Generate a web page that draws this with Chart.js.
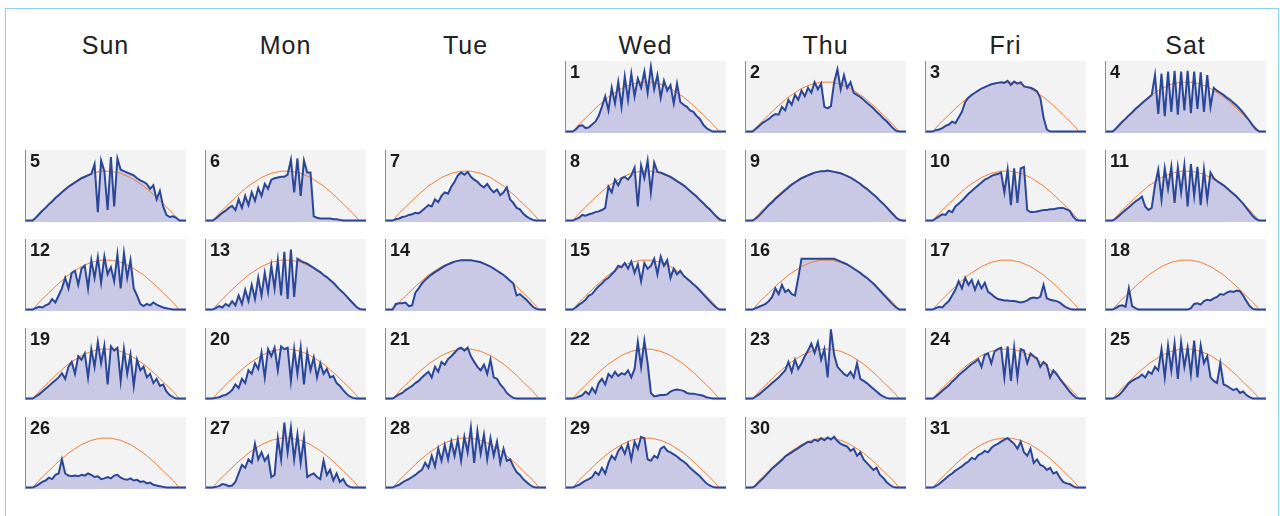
<!DOCTYPE html>
<html>
<head>
<meta charset="utf-8">
<script src="https://cdn.jsdelivr.net/npm/chart.js@4.4.1/dist/chart.umd.min.js"></script>
<style>
  body { margin: 0; background: #fff; font-family: "Liberation Sans", Arial, sans-serif; }
  #page { position: relative; width: 1280px; height: 516px; overflow: hidden; }
  #frame { position: absolute; left: 5px; top: 8px; width: 1272px; height: 520px; border: 1px solid #8fd0f0; }
  .head { position: absolute; top: 31px; width: 161px; text-align: center; font-size: 25px; letter-spacing: 1px; color: #222; }
  .panel { position: absolute; width: 160px; height: 72px; background: #f3f3f3; border-left: 1px solid #8c8c8c; }
  .panel canvas { position: absolute; left: 0; top: 0; }
  .day { position: absolute; left: 4px; top: 1px; font-size: 18px; line-height: 20px; font-weight: bold; color: #1a1a1a; }
</style>
</head>
<body>
<div id="page"><div id="frame"></div></div>
<script>
// calendar
const weekdays = ["Sun", "Mon", "Tue", "Wed", "Thu", "Fri", "Sat"];
const firstWeekday = 3; // the 1st is a Wednesday

// clear-sky reference curve (same for every day)
const clearSky = [0,0,0,5,10,15,19,24,28,33, 37,41,45,49,52,55,58,61,63,65, 67,68,69,70,70,70,70,69,68,67, 65,63,61,58,55,52,49,45,41,37, 33,28,24,19,15,10,5,0,0,0];

// measured production per day
const day01 = [0,0,0,3,8,9,5,6,10,14, 22,35,50,30,62,40,70,35,78,45, 82,50,75,62,85,55,92,60,80,48, 72,58,66,40,68,42,38,35,30,28, 22,18,10,5,2,0,0,0,0,0];
const day02 = [0,0,0,4,8,12,15,18,22,25, 24,35,30,45,38,52,45,58,50,62, 55,70,60,68,35,33,36,70,88,60, 80,62,70,55,52,49,45,41,37,33, 28,24,19,15,10,5,1,0,0,0];
const day03 = [0,0,0,2,3,5,8,10,14,12, 20,28,42,48,52,55,58,61,63,65, 67,68,69,70,69,72,66,71,68,70, 64,63,62,60,57,48,20,3,0,0, 0,0,0,0,0,0,0,0,0,0];
const day04 = [0,0,0,4,9,14,18,23,27,32, 36,40,44,48,52,80,25,82,22,85, 28,86,24,85,30,86,26,85,32,84, 28,80,35,62,58,55,52,48,45,41, 37,32,27,21,15,8,3,0,0,0];
const day05 = [0,0,0,4,9,14,18,23,27,32, 36,40,44,48,51,54,57,60,62,64, 66,80,12,85,70,15,90,20,88,72, 70,68,66,64,60,57,55,52,45,50, 30,42,20,8,5,6,4,0,0,0];
const day06 = [0,0,0,3,7,11,14,18,21,15, 30,18,35,22,40,28,46,35,52,45, 58,60,61,62,62,65,86,40,88,35, 85,68,68,6,4,3,3,3,3,2, 2,1,0,0,0,0,0,0,0,0];
const day07 = [0,0,0,2,3,5,6,8,9,11, 10,14,18,22,20,30,26,35,40,38, 48,55,64,68,65,69,62,58,55,50, 47,52,45,40,44,36,40,47,30,25, 18,16,10,6,3,1,0,0,0,0];
const day08 = [0,0,0,2,4,8,7,9,10,12, 13,15,18,48,40,58,50,60,62,58, 64,75,20,78,60,85,40,82,69,68, 66,64,62,59,56,53,50,46,42,38, 34,29,25,20,16,11,6,2,0,0];
const day09 = [0,0,0,3,7,12,17,22,26,31, 35,39,43,47,51,54,57,60,62,64, 66,68,69,70,70,71,70,69,68,67, 65,63,61,58,55,52,48,45,41,37, 33,28,24,19,14,9,4,1,0,0];
const day10 = [0,0,0,3,6,9,8,14,12,20, 24,28,33,38,42,46,50,54,58,60, 63,65,66,68,40,72,22,74,25,74, 76,15,12,12,13,14,15,15,16,16, 17,18,18,16,14,6,1,0,0,0];
const day11 = [0,0,0,3,7,11,15,19,23,27, 30,34,20,15,18,50,72,30,74,45, 76,25,75,40,78,20,80,35,76,22, 72,30,68,60,56,53,50,46,42,38, 34,29,24,18,12,6,2,0,0,0];
const day12 = [0,0,0,2,4,3,6,8,15,10, 20,30,45,30,52,55,35,58,62,30, 70,45,74,38,75,50,60,40,78,30, 80,45,70,30,20,8,5,8,6,10, 7,5,3,2,1,0,0,0,0,0];
const day13 = [0,0,0,2,5,3,8,5,12,6, 20,8,28,12,35,15,45,20,52,25, 62,30,70,20,82,15,85,18,72,69, 67,65,62,59,56,53,49,46,42,38, 33,28,24,19,14,9,4,1,0,0];
const day14 = [0,0,0,8,9,9,10,5,6,24, 30,37,42,46,50,53,56,59,62,64, 66,68,69,70,70,70,70,69,68,67, 65,63,61,58,55,52,49,45,41,37, 20,22,18,14,9,4,1,0,0,0];
const day15 = [0,0,0,3,7,10,14,20,22,28, 33,37,42,45,50,55,62,60,66,58, 68,52,64,40,66,58,62,72,50,75, 62,70,45,58,50,55,48,44,40,36, 32,27,22,17,12,7,3,0,0,0];
const day16 = [0,0,0,2,4,6,8,12,18,30, 22,35,25,28,22,20,45,72,72,72, 72,72,72,72,72,72,72,72,70,68, 66,64,61,58,55,52,48,45,41,37, 32,27,22,17,12,7,3,0,0,0];
const day17 = [0,0,0,2,4,3,8,12,20,28, 40,30,45,35,42,28,40,30,38,25, 22,18,15,14,13,13,12,12,11,10, 11,13,16,17,16,18,35,16,14,13, 12,10,6,3,1,0,0,0,0,0];
const day18 = [0,0,0,2,5,6,4,30,5,2, 0,0,0,0,0,0,0,0,0,0, 0,0,0,0,0,0,2,8,9,7, 12,14,13,16,18,22,21,24,26,25, 27,26,20,12,5,1,0,0,0,0];
const day19 = [0,0,0,3,6,10,14,18,22,26, 30,36,28,45,52,35,60,55,64,30, 70,45,80,50,75,20,74,68,72,25, 70,35,62,18,55,40,45,30,35,22, 28,18,20,10,5,2,0,0,0,0];
const day20 = [0,0,0,1,2,4,5,8,12,20, 15,28,22,40,35,50,42,65,30,70, 60,72,40,74,70,72,25,70,35,72, 20,65,40,58,30,50,35,42,30,32, 22,18,12,7,3,1,0,0,0,0];
const day21 = [0,0,0,3,6,8,12,15,18,22, 25,30,34,38,30,45,38,52,48,56, 60,65,70,72,68,72,60,52,45,40, 48,35,55,30,28,20,15,8,4,1, 0,0,0,0,0,0,0,0,0,0];
const day22 = [0,0,0,1,3,5,10,6,15,8, 22,28,20,35,30,38,32,36,34,40, 30,42,80,45,82,50,8,3,4,5, 5,6,10,12,13,12,11,8,7,7, 6,5,4,2,1,0,0,0,0,0];
const day23 = [0,0,0,3,6,10,14,18,22,26, 30,35,40,52,38,55,42,50,60,68, 78,65,80,55,70,30,98,62,45,40, 35,32,38,30,50,28,25,22,18,14, 10,6,3,1,0,0,0,0,0,0];
const day24 = [0,0,0,3,7,11,15,19,24,28, 33,37,41,45,49,52,56,45,62,64, 50,67,70,72,30,74,25,72,30,70, 68,50,64,60,57,45,52,48,30,40, 35,28,22,16,10,5,1,0,0,0];
const day25 = [0,0,0,2,5,10,16,22,25,28, 30,34,30,38,35,45,40,70,30,75, 40,78,28,80,45,72,35,82,30,75, 50,60,30,25,22,50,20,18,15,12, 14,8,10,5,2,0,0,0,0,0];
const day26 = [0,0,0,2,5,8,10,14,12,18, 20,40,20,17,16,17,16,18,17,20, 18,15,16,12,13,15,13,17,18,14, 12,11,13,10,11,8,9,6,7,4, 3,2,1,0,0,0,0,0,0,0];
const day27 = [0,0,0,1,2,5,4,2,3,8, 20,32,28,40,35,62,40,50,38,45, 15,18,70,40,92,50,85,40,75,35, 70,15,18,20,15,12,38,18,25,10, 20,8,12,4,1,0,0,0,0,0];
const day28 = [0,0,0,2,4,7,10,12,15,18, 22,25,35,28,45,30,55,38,60,40, 65,45,68,38,72,50,85,35,80,48, 75,40,70,45,65,35,55,38,40,30, 22,18,12,8,4,1,0,0,0,0];
const day29 = [0,0,0,2,4,7,10,12,15,22, 18,28,20,35,45,40,52,58,48,62, 40,65,55,72,70,40,38,45,42,55, 58,52,50,47,44,40,37,33,28,24, 20,16,11,6,3,1,0,0,0,0];
const day30 = [0,0,0,3,8,12,17,22,27,31, 35,39,44,47,50,53,56,59,62,65, 64,68,66,70,67,71,68,72,66,62, 60,58,52,55,45,50,40,35,30,25, 28,18,14,8,4,1,0,0,0,0];
const day31 = [0,0,0,2,5,9,13,17,20,24, 27,30,34,37,42,40,46,48,52,50, 56,60,62,65,68,70,66,62,55,65, 50,45,55,35,40,32,30,25,28,20, 22,14,8,6,5,2,0,0,0,0];

const days = [day01, day02, day03, day04, day05, day06, day07, day08, day09, day10,
  day11, day12, day13, day14, day15, day16, day17, day18, day19, day20,
  day21, day22, day23, day24, day25, day26, day27, day28, day29, day30, day31];

const page = document.getElementById("page");
const slots = clearSky.map((_, i) => i);

// column headers
weekdays.forEach((name, col) => {
  const h = document.createElement("div");
  h.className = "head";
  h.style.left = 25 + col * 180 + "px";
  h.textContent = name;
  page.appendChild(h);
});

days.forEach((values, i) => {
  const cell = firstWeekday + i;
  const col = cell % 7;
  const row = Math.floor(cell / 7);

  const panel = document.createElement("div");
  panel.className = "panel";
  panel.style.left = 25 + col * 180 + "px";
  panel.style.top = 61 + row * 89 + "px";

  const canvas = document.createElement("canvas");
  canvas.width = 160;
  canvas.height = 72;
  panel.appendChild(canvas);

  const label = document.createElement("div");
  label.className = "day";
  label.textContent = i + 1;
  panel.appendChild(label);
  page.appendChild(panel);

  new Chart(canvas, {
    type: "line",
    data: {
      labels: slots,
      datasets: [
        {
          data: values,
          borderColor: "#2a4697",
          borderWidth: 2,
          backgroundColor: "rgba(150,150,212,0.45)",
          fill: "start",
          tension: 0,
          pointRadius: 0,
        },
        {
          data: clearSky,
          borderColor: "#ee7b30",
          borderWidth: 1,
          fill: false,
          cubicInterpolationMode: "monotone",
          pointRadius: 0,
        },
      ],
    },
    options: {
      responsive: false,
      animation: false,
      events: [],
      layout: { padding: 0 },
      scales: {
        x: { display: false },
        y: { display: false, min: -2, max: 100 },
      },
      plugins: {
        legend: { display: false },
        tooltip: { enabled: false },
        filler: { drawTime: "beforeDatasetsDraw" },
      },
    },
  });
});
</script>
</body>
</html>
